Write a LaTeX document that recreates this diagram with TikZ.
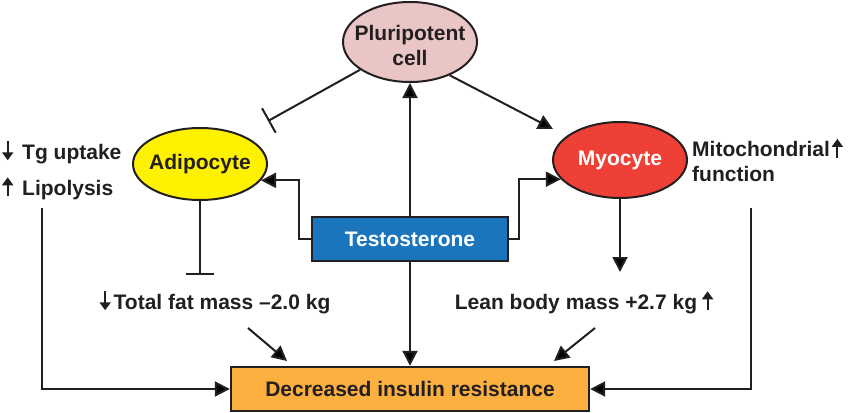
\documentclass[tikz,border=0pt]{standalone}
\usepackage{fontspec}
\setmainfont{Liberation Sans}
\usetikzlibrary{shapes.geometric,arrows.meta}
\definecolor{ink}{RGB}{35,31,32}
\definecolor{plurifill}{RGB}{233,197,198}
\definecolor{adipofill}{RGB}{255,242,0}
\definecolor{myofill}{RGB}{238,64,54}
\definecolor{testofill}{RGB}{27,117,188}
\definecolor{insfill}{RGB}{251,176,64}
\tikzset{
  cell/.style={ellipse,draw=ink,line width=2pt,inner sep=0pt,minimum width=134pt},
  box/.style={rectangle,draw=ink,line width=2.4pt,inner sep=0pt,minimum height=44pt},
  txt/.style={text=ink,font=\bfseries\fontsize{21}{25}\selectfont,align=left,inner sep=0pt},
  every label/.style={font=\bfseries\fontsize{21}{25}\selectfont,align=center,inner sep=0pt},
  arr/.style={draw=ink,line width=2pt,-{Triangle[length=15pt,width=15pt]}},
  inh/.style={draw=ink,line width=2pt,-{Bar[width=28pt,line width=2pt]}},
  ln/.style={draw=ink,line width=2pt}
}
% small up / down arrows inside the texts
\newcommand{\dnarw}{\tikz[baseline=-1pt,x=1pt,y=1pt]\draw[ink,line width=2pt,-{Triangle[length=8pt,width=11pt]}] (0,17)--(0,-2);}
\newcommand{\uparw}{\tikz[baseline=-1pt,x=1pt,y=1pt]\draw[ink,line width=2pt,-{Triangle[length=8pt,width=11pt]}] (0,-2)--(0,17);}
\begin{document}
\begin{tikzpicture}[x=1pt,y=-1pt]
      \useasboundingbox (0,0) rectangle (850,412);
      \node[cell,minimum height=80pt,fill=plurifill,label={[text=ink,yshift=-3pt]center:Pluripotent\\cell}] (pluri) at (410,42) {};
      \node[cell,minimum height=72pt,fill=adipofill,label={[text=ink]center:Adipocyte}] (adipo) at (200,164) {};
      \node[cell,minimum height=76pt,fill=myofill,label={[text=white]center:Myocyte}] (myo) at (620,160) {};
      \node[box,minimum width=196pt,fill=testofill,txt,text=white] (testo) at (410,239) {Testosterone};
      \node[box,minimum width=358pt,fill=insfill,txt] (ins) at (410,389) {Decreased insulin resistance};
      \node[txt,anchor=west] (tg) at (2,152) {\dnarw\hspace{9pt}Tg uptake};
      \node[txt,anchor=west] (lipo) at (2,188) {\uparw\hspace{9pt}Lipolysis};
      \node[txt,anchor=west] (mito) at (692,160) {Mitochondrial\hspace{2pt}\uparw\\function};
      \node[txt] (fat) at (215,302) {\dnarw\hspace{3pt}Total fat mass –2.0 kg};
      \node[txt] (lean) at (584,302) {Lean body mass +2.7 kg\hspace{5pt}\uparw};
      \coordinate (adbar) at (268,121); \coordinate (myin) at (553,129);
      \coordinate (fatbar) at (200,275); \coordinate (leantip) at (620,272);
      \coordinate (ltop) at (42,208); \coordinate (rtop) at (751,208);
      \coordinate (fa) at (248,328); \coordinate (fb) at (287,361);
      \coordinate (la) at (595,328); \coordinate (lb) at (554,361);
      \draw[inh] (pluri) -- (adbar);
      \draw[arr] (pluri.-40) -- (myin);
      \draw[arr] (testo.north) -- (pluri.south);
      \draw[arr] (testo.west) -- ++(-12,0) |- (adipo.-15);
      \draw[arr] (testo.east) -- ++(10,0) |- (myo.-162);
      \draw[inh] (adipo.south) -- (fatbar);
      \draw[arr] (myo.south) -- (leantip);
      \draw[arr] (testo.south) -- (ins.north);
      \draw[arr] (fa) -- (fb);
      \draw[arr] (la) -- (lb);
      \draw[arr] (ltop) |- (ins.west);
      \draw[arr] (rtop) |- (ins.east);
    \end{tikzpicture}
\end{document}
